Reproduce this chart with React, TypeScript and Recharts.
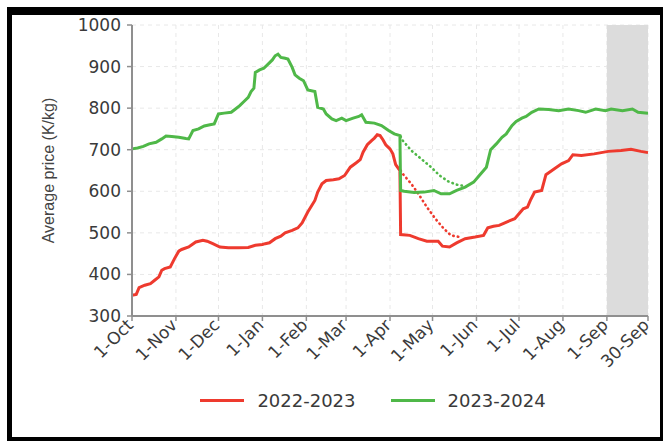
import {
  CartesianGrid,
  Legend,
  Line,
  LineChart,
  ReferenceArea,
  XAxis,
  YAxis,
} from "recharts";

// day index counted from 1-Oct (0) to 30-Sep (364)
const monthTicks = [0, 31, 61, 92, 123, 151, 182, 212, 243, 273, 304, 335, 364];
const monthLabels = [
  "1-Oct", "1-Nov", "1-Dec", "1-Jan", "1-Feb", "1-Mar", "1-Apr",
  "1-May", "1-Jun", "1-Jul", "1-Aug", "1-Sep", "30-Sep",
];
const priceTicks = [300, 400, 500, 600, 700, 800, 900, 1000];
const shadedFrom = 335;
const shadedTo = 364;

const season2223: [number, number][] = [
  [0, 350], [3, 352], [5, 368], [9, 374], [13, 378], [16, 386], [19, 394], [21, 410],
  [23, 414], [27, 418], [30, 438], [33, 456], [35, 460], [40, 466], [45, 478], [50, 482],
  [53, 480], [57, 474], [62, 466], [68, 464], [75, 464], [82, 465], [87, 470], [92, 472],
  [94, 474], [97, 476], [101, 486], [105, 492], [108, 500], [113, 506], [117, 512],
  [120, 524], [124, 550], [129, 578], [131, 598], [134, 618], [137, 626], [142, 628],
  [146, 630], [150, 638], [154, 658], [158, 668], [161, 676], [163, 694], [166, 712],
  [169, 722], [171, 728], [173, 736], [175, 734], [177, 724], [179, 712], [182, 702],
  [184, 690], [186, 664], [189, 650], [189.5, 496], [196, 494], [202, 486], [208, 480],
  [216, 480], [219, 468], [224, 466], [229, 476], [235, 486], [242, 490], [248, 494],
  [251, 512], [255, 516], [259, 518], [263, 524], [267, 530], [270, 534], [273, 546],
  [276, 558], [279, 562], [281, 578], [284, 598], [289, 602], [292, 640], [298, 654],
  [303, 666], [308, 674], [311, 688], [317, 686], [326, 690], [336, 696], [345, 698],
  [352, 701], [359, 696], [364, 693],
];
const season2223Alt: [number, number][] = [
  [189.5, 650], [191, 642], [197, 618], [202, 594], [208, 562], [214, 534], [220, 510],
  [225, 494], [231, 490],
];

const season2324: [number, number][] = [
  [0, 702], [4, 704], [8, 708], [12, 714], [17, 718], [21, 726], [24, 733], [28, 732],
  [33, 730], [38, 727], [40, 726], [43, 746], [47, 750], [51, 757], [55, 760], [58, 762],
  [61, 786], [65, 788], [70, 790], [73, 798], [76, 806], [79, 816], [82, 826], [84, 840],
  [86, 848], [87, 886], [90, 892], [93, 896], [96, 906], [99, 916], [101, 926], [103, 930],
  [105, 922], [108, 920], [110, 918], [113, 898], [115, 880], [118, 872], [121, 866],
  [124, 844], [129, 840], [131, 802], [135, 798], [137, 786], [141, 774], [144, 770],
  [148, 776], [151, 770], [156, 776], [160, 780], [162, 784], [165, 766], [171, 764],
  [176, 758], [181, 746], [185, 738], [189, 734], [189.5, 602], [192, 600], [199, 597],
  [206, 598], [213, 602], [218, 594], [224, 594], [229, 602], [235, 610], [241, 622],
  [245, 638], [250, 658], [253, 700], [257, 714], [261, 730], [264, 738], [268, 758],
  [271, 768], [275, 776], [278, 780], [282, 790], [287, 798], [294, 797], [301, 794],
  [308, 798], [315, 794], [320, 790], [327, 798], [334, 794], [338, 798], [346, 794],
  [353, 798], [357, 790], [364, 788],
];
const season2324Alt: [number, number][] = [
  [189.5, 732], [191, 722], [197, 698], [204, 678], [211, 658], [217, 638], [223, 624],
  [229, 616], [234, 613],
];

const RED = "#ee3a2e";
const GREEN = "#4fb848";
const AXIS = "#8f8f8f";
const TEXT = "#3a3a3a";

const toPoints = (rows: [number, number][]) => rows.map(([day, price]) => ({ day, price }));

function MonthTick({ x, y, payload }: any) {
  const idx = monthTicks.indexOf(payload.value);
  return (
    <g transform={`translate(${x - 2},${y - 1}) rotate(-45)`}>
      <text x={0} y={0} dy="0.35em" textAnchor="end" fill={TEXT} fontSize={17}>
        {monthLabels[idx]}
      </text>
    </g>
  );
}

function SeasonLegend({ payload }: any) {
  const items = (payload ?? []).filter((p: any) => p.type !== "none");
  return (
    <div
      style={{
        display: "flex",
        justifyContent: "center",
        alignItems: "center",
        gap: 35,
        paddingLeft: 98,
        fontSize: 18,
        color: TEXT,
      }}
    >
      {items.map((p: any) => (
        <span key={p.value} style={{ display: "flex", alignItems: "center" }}>
          <span style={{ width: 44, height: 3, background: p.color, marginRight: 13 }} />
          {p.value}
        </span>
      ))}
    </div>
  );
}

export default function App() {
  return (
    <div style={{ position: "fixed", left: 0, top: 0, width: 663, height: 441, background: "#fff" }}>
      <div
        style={{
          position: "absolute",
          left: 7,
          top: 7,
          width: 656,
          height: 434,
          boxSizing: "border-box",
          borderStyle: "solid",
          borderColor: "#000",
          borderWidth: "8px 3px 4px 5px",
        }}
      />
      <div style={{ position: "absolute", left: 0, top: 0 }}>
        <LineChart
          width={663}
          height={441}
          margin={{ top: 25, right: 15, bottom: 30, left: 0 }}
          style={{ fontFamily: "'DejaVu Sans', sans-serif" }}
        >
          <CartesianGrid stroke="#e8e8e8" strokeDasharray="4 4" />
          <ReferenceArea
            x1={shadedFrom}
            x2={shadedTo}
            y1={300}
            y2={1000}
            fill="#dcdcdc"
            fillOpacity={1}
            stroke="none"
          />
          <XAxis
            type="number"
            dataKey="day"
            domain={[0, 364]}
            ticks={monthTicks}
            interval={0}
            height={74}
            tick={<MonthTick />}
            tickSize={5}
            tickMargin={2}
            axisLine={{ stroke: AXIS, strokeWidth: 2 }}
            tickLine={{ stroke: AXIS, strokeWidth: 1.5 }}
            allowDuplicatedCategory={false}
          />
          <YAxis
            type="number"
            dataKey="price"
            domain={[300, 1000]}
            ticks={priceTicks}
            interval={0}
            width={132}
            tick={{ fontSize: 17, fill: TEXT }}
            tickSize={5}
            tickMargin={6}
            axisLine={{ stroke: AXIS, strokeWidth: 2 }}
            tickLine={{ stroke: AXIS, strokeWidth: 1.5 }}
            label={{
              value: "Average price (K/kg)",
              angle: -90,
              position: "insideLeft",
              offset: 48,
              style: {
                textAnchor: "middle",
                fontFamily: "'Liberation Sans', Arial, sans-serif",
                fontSize: 16,
                fill: "#444",
              },
            }}
          />
          <Legend verticalAlign="bottom" content={<SeasonLegend />} />
          <Line
            data={toPoints(season2223Alt)}
            dataKey="price"
            type="linear"
            stroke={RED}
            strokeWidth={2.6}
            strokeDasharray="0.5 4.2"
            strokeLinecap="round"
            dot={false}
            legendType="none"
            isAnimationActive={false}
          />
          <Line
            data={toPoints(season2324Alt)}
            dataKey="price"
            type="linear"
            stroke={GREEN}
            strokeWidth={2.6}
            strokeDasharray="0.5 4.2"
            strokeLinecap="round"
            dot={false}
            legendType="none"
            isAnimationActive={false}
          />
          <Line
            data={toPoints(season2223)}
            dataKey="price"
            name="2022-2023"
            type="linear"
            stroke={RED}
            strokeWidth={3}
            dot={false}
            isAnimationActive={false}
          />
          <Line
            data={toPoints(season2324)}
            dataKey="price"
            name="2023-2024"
            type="linear"
            stroke={GREEN}
            strokeWidth={3}
            dot={false}
            isAnimationActive={false}
          />
        </LineChart>
      </div>
    </div>
  );
}
